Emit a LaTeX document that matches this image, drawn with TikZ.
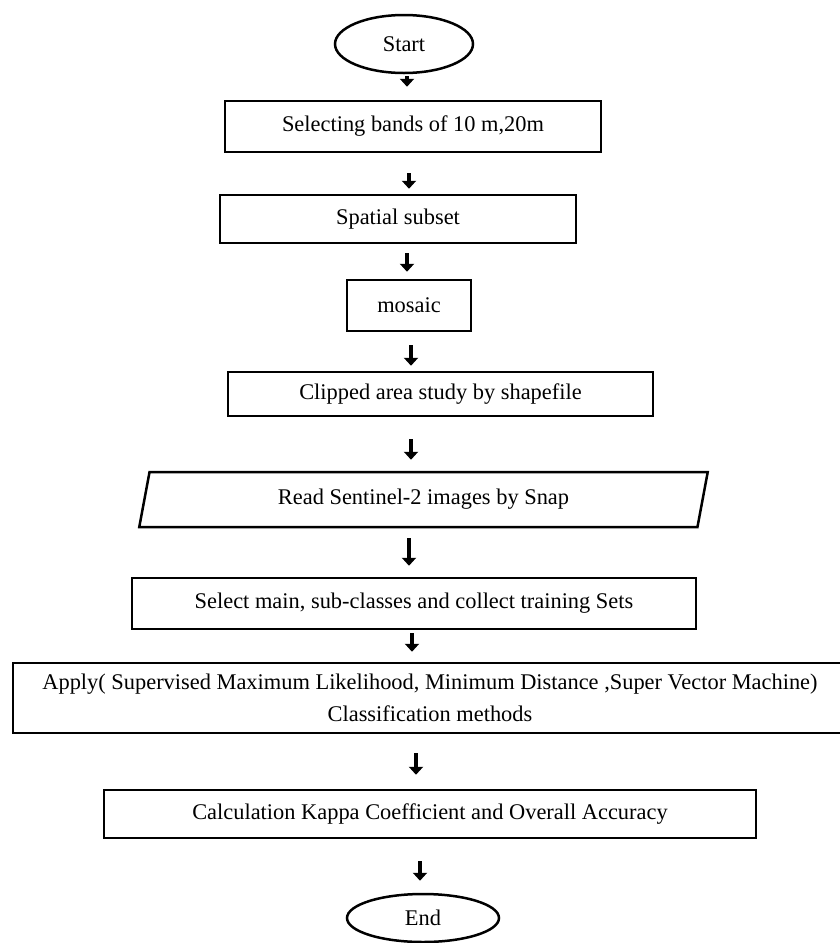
\documentclass[tikz,border=0pt]{standalone}
\usepackage{fontspec}
\setmainfont{Liberation Serif}
\usetikzlibrary{arrows.meta,shapes.geometric}

\begin{document}
\begin{tikzpicture}[x=1pt, y=-1pt, line width=2.5pt,
  every node/.style={draw, inner sep=0pt,
    font=\fontsize{22.4}{32}\selectfont},
  term/.style={ellipse},
  flow/.style={line width=4.5pt, -{Triangle[width=14pt,length=8pt]}}]
  \useasboundingbox (0,0) rectangle (840,943);
  \node[term, minimum width=138pt, minimum height=58pt] (start) at (404,44) {Start};
  \node[minimum width=376pt, minimum height=51pt] (bands) at (413,126.5)
    {Selecting bands of 10 m,20m};
  \node[minimum width=356pt, minimum height=48pt] (subset) at (398,219)
    {Spatial subset};
  \node[minimum width=124pt, minimum height=51pt] (mosaic) at (409,305.5)
    {mosaic};
  \node[minimum width=425pt, minimum height=44pt] (clip) at (440.5,394)
    {Clipped area study by shapefile};
  \node[trapezium, trapezium left angle=75, trapezium right angle=105,
    trapezium stretches=true, minimum width=571pt, minimum height=55pt]
    (read) at (423.5,499.5) {Read Sentinel-2 images by Snap};
  \node[minimum width=564pt, minimum height=51pt] (select) at (414,603.5)
    {Select main, sub-classes and collect training Sets};
  \node[minimum width=834pt, minimum height=70pt, align=center] (apply) at (430,698)
    {Apply( Supervised Maximum Likelihood, Minimum Distance ,Super Vector Machine)\\
     Classification methods};
  \node[minimum width=652pt, minimum height=48pt] (kappa) at (430,814)
    {Calculation Kappa Coefficient and Overall Accuracy};
  \node[term, minimum width=152pt, minimum height=48pt] (end) at (423,918) {End};
  % arrows sit in the gaps
  \foreach \a/\b/\x/\s/\t in {start/bands/407/2pt/13pt, bands/subset/409/20pt/5pt,
      subset/mosaic/407/9pt/7pt, mosaic/clip/411/13pt/5pt, clip/read/411/22pt/11pt,
      read/select/409/10pt/11pt, select/apply/412/3pt/10pt,
      apply/kappa/416/19pt/14pt, kappa/end/420/22pt/12pt}
    \draw[flow, shorten <=\s, shorten >=\t] (\a.south -| \x,0) -- (\b.north -| \x,0);
\end{tikzpicture}
\end{document}
